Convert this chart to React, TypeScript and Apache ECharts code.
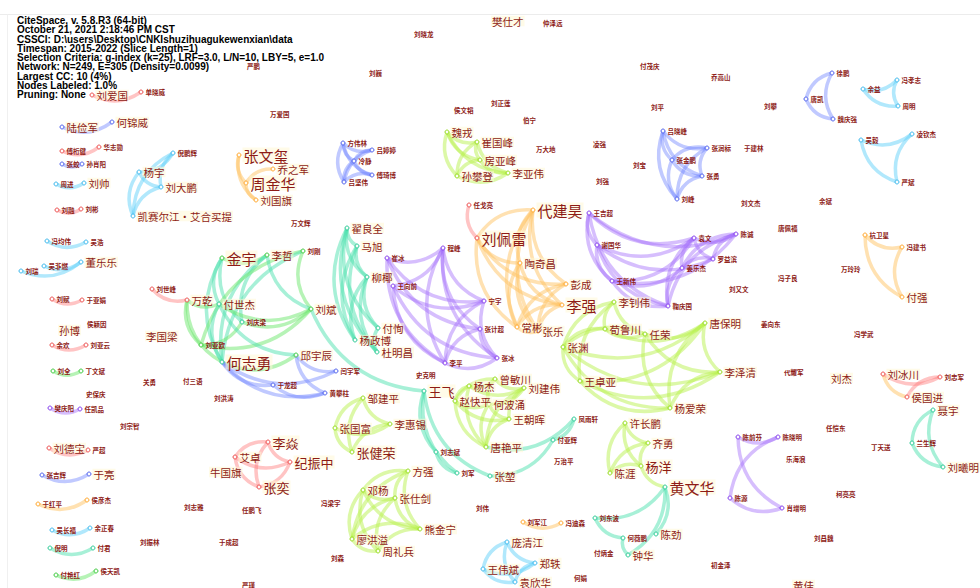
import React, { useEffect, useRef } from 'react';
import * as echarts from 'echarts';

const headerLines = [
  'CiteSpace, v. 5.8.R3 (64-bit)',
  'October 21, 2021 2:18:46 PM CST',
  'CSSCI: D:\\users\\Desktop\\CNKIshuzihuagukewenxian\\data',
  'Timespan: 2015-2022 (Slice Length=1)',
  'Selection Criteria: g-index (k=25), LRF=3.0, L/N=10, LBY=5, e=1.0',
  'Network: N=249, E=305 (Density=0.0099)',
  'Largest CC: 10 (4%)',
  'Nodes Labeled: 1.0%',
  'Pruning: None',
];

// [author, layoutX, layoutY, frequency tier]
const nodes: [string, number, number, number][] = [
  ['刘爱国', 92, 95, 3], ['单晓威', 141, 92, 1], ['严鹏', 245, 66, 1], ['刘巍', 367, 73, 1],
  ['刘晓龙', 412, 34, 1], ['樊仕才', 490, 21, 3], ['仲泽远', 541, 23, 1], ['万爱国', 268, 114, 1],
  ['陆俭军', 62, 127, 3], ['何锦威', 112, 122, 3], ['傅桁健', 62, 151, 1], ['华志勋', 99, 147, 1],
  ['张蛟', 62, 164, 1], ['孙肖阳', 82, 164, 1], ['周进', 56, 184, 1], ['刘帅', 84, 183, 3],
  ['倪鹏辉', 173, 153, 1], ['杨宇', 139, 172, 3], ['刘大鹏', 161, 187, 3],
  ['凯赛尔江·艾合买提', 133, 216, 3], ['张文玺', 239, 155, 5], ['乔之军', 273, 169, 3],
  ['周金华', 246, 183, 5], ['刘国旗', 256, 200, 3], ['刘融', 57, 210, 1], ['刘彬', 81, 209, 1],
  ['万文辉', 289, 223, 1], ['冯均伟', 47, 241, 1], ['吴浩', 86, 242, 1], ['吴非燃', 44, 266, 1],
  ['董乐乐', 81, 262, 3], ['刘瑞', 21, 271, 1], ['刘赋', 52, 299, 1], ['于亚娟', 82, 300, 1],
  ['孙博', 57, 330, 3], ['侯颖因', 85, 324, 1], ['余欢', 52, 345, 1], ['刘亚云', 86, 345, 1],
  ['刘全', 53, 371, 1], ['丁文斌', 81, 371, 1], ['关勇', 141, 382, 1], ['付三语', 181, 381, 1],
  ['史保庆', 84, 394, 1], ['李国梁', 144, 336, 3], ['刘世峰', 152, 289, 1], ['万乾', 187, 300, 3],
  ['金宇', 222, 258, 5], ['李哲', 267, 255, 3], ['刘刚', 303, 251, 1], ['付世杰', 219, 304, 3],
  ['刘庆梁', 242, 322, 1], ['刘亚欧', 201, 345, 1], ['刘斌', 311, 309, 3], ['何志勇', 222, 362, 5],
  ['邱宇辰', 296, 355, 3], ['于龙超', 273, 385, 1], ['闫宇军', 336, 371, 1], ['黄攀柱', 325, 393, 1],
  ['方伟林', 343, 143, 1], ['吕婷婷', 372, 150, 1], ['冷静', 354, 161, 1], ['傅琦博', 372, 175, 1],
  ['吕坚伟', 344, 182, 1],
  ['翟良全', 347, 228, 3], ['马旭', 357, 246, 3], ['柳椰', 367, 277, 3], ['付恂', 378, 328, 3],
  ['杨政博', 355, 340, 3], ['杜明昌', 377, 352, 3],
  ['崔冰', 387, 258, 1], ['程峰', 443, 248, 1], ['王向前', 393, 286, 1], ['宁宇', 484, 301, 1],
  ['张计超', 480, 329, 1], ['张冰', 497, 358, 1], ['李平', 445, 363, 1],
  ['侯文韬', 452, 110, 1], ['刘正莲', 489, 103, 1], ['伯宁', 521, 120, 1], ['万大地', 534, 149, 1],
  ['凌强', 591, 144, 1], ['刘宝', 631, 165, 1], ['刘强', 594, 181, 1],
  ['魏戎', 447, 132, 3], ['崔国峰', 477, 142, 3], ['房亚峰', 480, 160, 3], ['孙攀登', 457, 176, 3],
  ['李亚伟', 508, 173, 3],
  ['任戈亮', 469, 205, 1], ['代建昊', 533, 210, 5], ['刘佩雷', 477, 238, 5], ['陶奇昌', 520, 263, 3],
  ['彭成', 566, 284, 3], ['李强', 562, 305, 5], ['常彬', 517, 327, 3], ['张乐', 538, 331, 3],
  ['付茂庆', 638, 66, 1], ['乔高山', 709, 77, 1], ['刘平', 649, 107, 1], ['刘攀', 762, 106, 1],
  ['于建林', 742, 148, 1],
  ['吕晓峰', 663, 131, 1], ['张润标', 707, 148, 1], ['张金鹏', 672, 160, 1], ['张勇', 702, 176, 1],
  ['刘峰', 677, 199, 1],
  ['徐鹏', 832, 73, 1], ['唐凯', 806, 99, 1], ['魏庆强', 833, 119, 1],
  ['余益', 863, 89, 1], ['冯孝志', 897, 80, 1], ['周明', 898, 106, 1],
  ['吴毅', 861, 140, 1], ['凌钦杰', 912, 134, 1], ['严斌', 897, 182, 1],
  ['刘文杰', 739, 203, 1], ['余斌', 817, 201, 1], ['唐佩福', 776, 228, 1], ['冯子良', 776, 278, 1],
  ['刘又文', 727, 289, 1], ['万玲玲', 839, 269, 1], ['姜向东', 759, 324, 1], ['冯学武', 852, 334, 1],
  ['代耀军', 782, 372, 1], ['刘杰', 829, 378, 3],
  ['王吉超', 589, 213, 1], ['谢国华', 597, 245, 1], ['王新伟', 612, 281, 1], ['袁文', 694, 238, 1],
  ['陈诚', 736, 234, 1], ['罗益滨', 713, 259, 1], ['姜乐杰', 682, 268, 1], ['鞠庆国', 668, 306, 1],
  ['杭卫星', 865, 235, 1], ['冯建书', 902, 247, 1], ['付强', 902, 297, 3],
  ['李钊伟', 614, 302, 3], ['荀鲁川', 605, 329, 3], ['任荣', 645, 334, 3], ['张渊', 563, 347, 3],
  ['王卓亚', 580, 381, 3], ['唐保明', 705, 323, 3], ['李泽清', 720, 372, 3], ['杨爱荣', 670, 408, 3],
  ['刘冰川', 883, 374, 3], ['刘忠军', 940, 377, 1], ['侯国进', 907, 397, 3], ['聂宇', 933, 410, 3],
  ['兰生辉', 912, 443, 1], ['刘曦明', 943, 467, 3],
  ['陈前芬', 738, 437, 1], ['陈晓明', 778, 437, 1], ['陈源', 730, 498, 1], ['肖增明', 782, 508, 1],
  ['任恺东', 824, 428, 1], ['乐海浪', 784, 459, 1], ['丁天送', 869, 447, 1], ['柯亮亮', 834, 494, 1],
  ['刘昌魏', 812, 538, 1], ['初金泽', 709, 565, 1], ['黄佳', 791, 585, 3],
  ['许长鹏', 625, 423, 3], ['齐勇', 648, 443, 3], ['杨洋', 641, 466, 4], ['陈涯', 610, 473, 3],
  ['黄文华', 665, 487, 5], ['陈劲', 656, 534, 3], ['刘东波', 595, 518, 1], ['何薇鹏', 623, 538, 1],
  ['钟华', 628, 555, 3],
  ['王飞', 424, 391, 4], ['史克明', 414, 375, 1], ['杨杰', 469, 386, 3], ['曾敏川', 495, 379, 3],
  ['刘建伟', 524, 388, 3], ['赵快平', 455, 401, 3], ['何波涌', 489, 404, 3], ['王朝晖', 509, 419, 3],
  ['唐艳平', 486, 447, 3], ['张堃', 490, 476, 3], ['刘志斌', 436, 452, 1], ['刘军', 457, 473, 1],
  ['凤雨轩', 574, 419, 1], ['付亚辉', 553, 440, 1], ['万治平', 552, 461, 1],
  ['邹建平', 363, 398, 3], ['李惠锡', 390, 424, 3], ['张国富', 335, 428, 3], ['张健荣', 352, 452, 4],
  ['方强', 408, 471, 3], ['邓杨', 363, 490, 3], ['张仕剑', 395, 498, 3], ['熊金宁', 420, 529, 3],
  ['廖洪溢', 352, 539, 3], ['周礼兵', 378, 551, 3], ['刘森', 329, 558, 1], ['刘伟', 474, 508, 1],
  ['刘军江', 523, 522, 1], ['冯迪森', 561, 523, 1], ['庞清江', 507, 542, 3], ['郑轶', 535, 563, 3],
  ['王伟斌', 483, 569, 3], ['袁欣华', 515, 582, 3], ['付炳金', 592, 553, 1], ['何娟', 572, 578, 1],
  ['樊庆阳', 50, 408, 1], ['任凯品', 80, 409, 1], ['刘宗智', 118, 426, 1], ['刘洪涛', 212, 398, 1],
  ['刘德宝', 49, 448, 3], ['严超', 88, 450, 1], ['张吉辉', 42, 475, 1], ['于亮', 89, 474, 3],
  ['于红平', 38, 504, 1], ['侯彦杰', 87, 500, 1], ['吴长福', 52, 530, 1], ['余正春', 90, 528, 1],
  ['倪明', 50, 548, 1], ['付君', 93, 548, 1], ['付艳红', 56, 575, 1], ['侯天凯', 96, 571, 1],
  ['刘志雅', 182, 507, 1], ['任鹏飞', 240, 510, 1], ['冯梁宇', 319, 503, 1], ['刘振林', 138, 542, 1],
  ['于成超', 217, 542, 1], ['严瑾', 240, 585, 1],
  ['李焱', 268, 442, 4], ['艾卓', 235, 457, 3], ['纪振中', 290, 462, 4], ['牛国旗', 208, 472, 3],
  ['张奕', 259, 487, 4],
];

// time-slice groups: 0 blue, 1 cyan, 2 teal, 3 green, 4 yellow-green, 5 orange, 6 red, 7 purple
const links: [string, string, number][] = [
  ['刘爱国', '单晓威', 6], ['陆俭军', '何锦威', 0], ['傅桁健', '华志勋', 6], ['张蛟', '孙肖阳', 0],
  ['周进', '刘帅', 1],
  ['杨宇', '倪鹏辉', 1], ['杨宇', '刘大鹏', 1], ['倪鹏辉', '凯赛尔江·艾合买提', 1],
  ['杨宇', '凯赛尔江·艾合买提', 1], ['刘大鹏', '凯赛尔江·艾合买提', 1], ['倪鹏辉', '刘大鹏', 1],
  ['张文玺', '周金华', 5], ['张文玺', '刘国旗', 5], ['周金华', '刘国旗', 5], ['乔之军', '周金华', 5],
  ['刘融', '刘彬', 6], ['冯均伟', '吴浩', 1], ['吴非燃', '董乐乐', 1], ['刘瑞', '董乐乐', 1],
  ['刘赋', '于亚娟', 6], ['余欢', '刘亚云', 6], ['刘全', '丁文斌', 3], ['刘世峰', '万乾', 6],
  ['金宇', '李哲', 3], ['金宇', '付世杰', 2], ['金宇', '何志勇', 2], ['金宇', '刘庆梁', 2],
  ['李哲', '何志勇', 2], ['李哲', '刘庆梁', 2], ['刘刚', '刘斌', 3], ['刘刚', '刘亚欧', 3],
  ['刘刚', '何志勇', 2], ['万乾', '付世杰', 3], ['万乾', '何志勇', 3], ['万乾', '刘亚欧', 3],
  ['付世杰', '何志勇', 2], ['付世杰', '刘斌', 3], ['刘亚欧', '刘斌', 3], ['刘亚欧', '刘庆梁', 3],
  ['刘庆梁', '刘斌', 3], ['何志勇', '邱宇辰', 3], ['付世杰', '邱宇辰', 2], ['李哲', '刘斌', 2],
  ['刘斌', '王飞', 2],
  ['何志勇', '闫宇军', 0], ['何志勇', '黄攀柱', 0], ['邱宇辰', '闫宇军', 0], ['于龙超', '黄攀柱', 0],
  ['何志勇', '于龙超', 0], ['邱宇辰', '黄攀柱', 0],
  ['方伟林', '吕婷婷', 0], ['方伟林', '冷静', 0], ['方伟林', '吕坚伟', 0], ['吕婷婷', '冷静', 0],
  ['吕婷婷', '吕坚伟', 0], ['冷静', '傅琦博', 0], ['冷静', '吕坚伟', 0], ['傅琦博', '吕坚伟', 0],
  ['方伟林', '傅琦博', 0],
  ['翟良全', '马旭', 2], ['翟良全', '柳椰', 2], ['翟良全', '付恂', 2], ['翟良全', '杨政博', 2],
  ['翟良全', '杜明昌', 2], ['马旭', '柳椰', 2], ['马旭', '杨政博', 2], ['马旭', '杜明昌', 2],
  ['柳椰', '付恂', 2], ['柳椰', '杨政博', 2], ['柳椰', '杜明昌', 2], ['付恂', '杜明昌', 2],
  ['崔冰', '程峰', 7], ['崔冰', '宁宇', 7], ['崔冰', '张计超', 7], ['崔冰', '李平', 7],
  ['王向前', '程峰', 7], ['王向前', '李平', 7], ['王向前', '张冰', 7], ['程峰', '宁宇', 7],
  ['程峰', '张计超', 7], ['程峰', '李平', 7], ['程峰', '张冰', 7], ['宁宇', '张冰', 7],
  ['宁宇', '李平', 7], ['张计超', '张冰', 7], ['张计超', '李平', 7], ['李平', '张冰', 7],
  ['王向前', '宁宇', 7],
  ['任戈亮', '刘佩雷', 6],
  ['代建昊', '刘佩雷', 5], ['代建昊', '陶奇昌', 5], ['代建昊', '彭成', 5], ['代建昊', '李强', 5],
  ['代建昊', '常彬', 5], ['代建昊', '张乐', 5], ['刘佩雷', '陶奇昌', 5], ['刘佩雷', '彭成', 5],
  ['刘佩雷', '李强', 5], ['刘佩雷', '常彬', 5], ['陶奇昌', '李强', 5], ['陶奇昌', '常彬', 5],
  ['陶奇昌', '张乐', 5], ['彭成', '常彬', 5], ['彭成', '张乐', 5], ['李强', '常彬', 5],
  ['李强', '张乐', 5], ['常彬', '张乐', 5],
  ['魏戎', '崔国峰', 4], ['魏戎', '房亚峰', 4], ['魏戎', '孙攀登', 4], ['魏戎', '李亚伟', 4],
  ['崔国峰', '房亚峰', 4], ['崔国峰', '孙攀登', 4], ['崔国峰', '李亚伟', 4], ['房亚峰', '李亚伟', 4],
  ['孙攀登', '李亚伟', 4], ['房亚峰', '孙攀登', 4],
  ['吕晓峰', '张润标', 0], ['吕晓峰', '张金鹏', 0], ['吕晓峰', '张勇', 0], ['吕晓峰', '刘峰', 0],
  ['张润标', '张金鹏', 0], ['张润标', '张勇', 0], ['张润标', '刘峰', 0], ['张金鹏', '张勇', 0],
  ['张金鹏', '刘峰', 0], ['张勇', '刘峰', 0],
  ['徐鹏', '唐凯', 0], ['唐凯', '魏庆强', 0], ['徐鹏', '魏庆强', 0],
  ['余益', '冯孝志', 1], ['冯孝志', '周明', 1], ['余益', '周明', 1],
  ['吴毅', '凌钦杰', 1], ['凌钦杰', '严斌', 1], ['吴毅', '严斌', 1],
  ['王吉超', '谢国华', 7], ['王吉超', '王新伟', 7], ['王吉超', '袁文', 7], ['王吉超', '陈诚', 7],
  ['王吉超', '鞠庆国', 7], ['谢国华', '袁文', 7], ['谢国华', '罗益滨', 7], ['谢国华', '王新伟', 7],
  ['谢国华', '鞠庆国', 7], ['王新伟', '袁文', 7], ['王新伟', '陈诚', 7], ['王新伟', '姜乐杰', 7],
  ['王新伟', '鞠庆国', 7], ['袁文', '陈诚', 7], ['袁文', '罗益滨', 7], ['袁文', '鞠庆国', 7],
  ['陈诚', '罗益滨', 7], ['陈诚', '姜乐杰', 7], ['陈诚', '鞠庆国', 7], ['罗益滨', '姜乐杰', 7],
  ['姜乐杰', '鞠庆国', 7], ['袁文', '姜乐杰', 7],
  ['杭卫星', '冯建书', 5], ['冯建书', '付强', 5], ['杭卫星', '付强', 5],
  ['李钊伟', '荀鲁川', 4], ['李钊伟', '张渊', 4], ['李钊伟', '任荣', 4], ['李钊伟', '王卓亚', 4],
  ['荀鲁川', '任荣', 4], ['荀鲁川', '张渊', 4], ['荀鲁川', '唐保明', 4], ['任荣', '唐保明', 4],
  ['任荣', '李泽清', 4], ['任荣', '张渊', 4], ['任荣', '杨爱荣', 4], ['张渊', '王卓亚', 4],
  ['张渊', '李泽清', 4], ['张渊', '杨爱荣', 4], ['王卓亚', '杨爱荣', 4], ['王卓亚', '李泽清', 4],
  ['唐保明', '李泽清', 4], ['唐保明', '杨爱荣', 4], ['李泽清', '杨爱荣', 4], ['张渊', '唐保明', 4],
  ['王卓亚', '唐保明', 4],
  ['杨杰', '曾敏川', 4], ['杨杰', '赵快平', 4], ['杨杰', '刘建伟', 4], ['曾敏川', '刘建伟', 4],
  ['曾敏川', '何波涌', 4], ['赵快平', '何波涌', 4], ['赵快平', '王朝晖', 4], ['赵快平', '唐艳平', 4],
  ['何波涌', '刘建伟', 4], ['何波涌', '王朝晖', 4], ['何波涌', '唐艳平', 4], ['刘建伟', '王朝晖', 4],
  ['刘建伟', '唐艳平', 4], ['王朝晖', '唐艳平', 4], ['杨杰', '唐艳平', 4], ['曾敏川', '赵快平', 4],
  ['王飞', '刘志斌', 2], ['刘志斌', '刘军', 2], ['王飞', '刘军', 2], ['王飞', '张堃', 2],
  ['张堃', '付亚辉', 2], ['付亚辉', '凤雨轩', 2], ['唐艳平', '凤雨轩', 2],
  ['邹建平', '张国富', 4], ['邹建平', '李惠锡', 4], ['邹建平', '张健荣', 4], ['张国富', '李惠锡', 4],
  ['张国富', '张健荣', 4], ['李惠锡', '张健荣', 4],
  ['方强', '邓杨', 4], ['方强', '张仕剑', 4], ['方强', '熊金宁', 4], ['方强', '廖洪溢', 4],
  ['邓杨', '张仕剑', 4], ['邓杨', '廖洪溢', 4], ['邓杨', '周礼兵', 4], ['邓杨', '熊金宁', 4],
  ['张仕剑', '熊金宁', 4], ['张仕剑', '廖洪溢', 4], ['张仕剑', '周礼兵', 4], ['熊金宁', '周礼兵', 4],
  ['廖洪溢', '周礼兵', 4], ['熊金宁', '廖洪溢', 4],
  ['李焱', '纪振中', 6], ['李焱', '张奕', 6], ['艾卓', '张奕', 6], ['艾卓', '纪振中', 6],
  ['张奕', '纪振中', 6], ['李焱', '艾卓', 6],
  ['刘军江', '冯迪森', 5],
  ['庞清江', '郑轶', 1], ['庞清江', '王伟斌', 1], ['王伟斌', '郑轶', 1], ['王伟斌', '袁欣华', 1],
  ['郑轶', '袁欣华', 1], ['庞清江', '袁欣华', 1],
  ['刘东波', '黄文华', 2], ['钟华', '黄文华', 2], ['陈劲', '黄文华', 2], ['刘东波', '何薇鹏', 2],
  ['何薇鹏', '钟华', 2],
  ['许长鹏', '齐勇', 4], ['许长鹏', '陈涯', 4], ['许长鹏', '杨洋', 4], ['齐勇', '陈涯', 4],
  ['齐勇', '杨洋', 4], ['杨洋', '陈涯', 4], ['杨洋', '黄文华', 4],
  ['陈前芬', '陈晓明', 7], ['陈前芬', '肖增明', 7], ['陈晓明', '陈源', 7], ['陈源', '肖增明', 7],
  ['刘冰川', '刘忠军', 6], ['刘忠军', '侯国进', 6], ['刘冰川', '侯国进', 5],
  ['聂宇', '兰生辉', 2], ['兰生辉', '刘曦明', 2], ['聂宇', '刘曦明', 2],
  ['樊庆阳', '任凯品', 7], ['刘德宝', '严超', 6], ['张吉辉', '于亮', 0], ['于红平', '侯彦杰', 5],
  ['吴长福', '余正春', 1], ['倪明', '付君', 2], ['付艳红', '侯天凯', 3],
];

const edgeColors = [
  'rgba(115,135,255,0.45)',
  'rgba(100,210,250,0.5)',
  'rgba(80,225,175,0.5)',
  'rgba(110,232,110,0.5)',
  'rgba(185,242,80,0.5)',
  'rgba(255,195,100,0.5)',
  'rgba(255,125,125,0.45)',
  'rgba(165,110,250,0.45)',
];
const nodeColors = ['#5566ee', '#44bbee', '#33cc99', '#44cc44', '#99dd22', '#ffaa33', '#ee5555', '#8844ee'];
const tierFont: Record<number, number> = { 1: 6.5, 3: 10.5, 4: 13, 5: 15 };

export default function App() {
  const ref = useRef<HTMLDivElement>(null);
  useEffect(() => {
    const chart = echarts.init(ref.current!, null, { renderer: 'svg' });
    const groupOf: Record<string, number> = {};
    links.forEach(([a, b, g]) => {
      if (groupOf[a] === undefined) groupOf[a] = g;
      if (groupOf[b] === undefined) groupOf[b] = g;
    });
    const data = nodes.map(([name, x, y, w]) => {
      const g = groupOf[name];
      return {
        name,
        value: [x, y],
        symbol: 'circle',
        symbolSize: g === undefined ? 0 : 4,
        itemStyle: {
          color: 'rgba(255,255,255,0.9)',
          borderColor: g === undefined ? 'rgba(0,0,0,0)' : nodeColors[g],
          borderWidth: 1,
        },
        label: {
          show: true,
          position: 'right',
          distance: 1,
          fontSize: tierFont[w],
          fontWeight: w === 1 ? 'bold' : 'normal',
          color: '#8e1b16',
          fontFamily: '"Noto Sans CJK SC", sans-serif',
          backgroundColor: w >= 3 ? 'rgba(255,248,214,0.55)' : 'transparent',
          padding: [0, 1],
        },
      };
    });
    const linkData = links.map(([a, b, g]) => ({
      source: a,
      target: b,
      lineStyle: { color: edgeColors[g], width: 3.5, curveness: -0.3, opacity: 1 },
    }));
    chart.setOption({
      animation: false,
      backgroundColor: '#ffffff',
      grid: { left: 0, right: 0, top: 0, bottom: 0 },
      xAxis: { type: 'value', min: 0, max: 980, show: false },
      yAxis: { type: 'value', min: 0, max: 588, inverse: true, show: false },
      graphic: [
        { type: 'line', shape: { x1: 0, y1: 14.5, x2: 980, y2: 14.5 }, style: { stroke: '#ececec', lineWidth: 1 }, z: 1 },
        { type: 'line', shape: { x1: 7.5, y1: 14.5, x2: 7.5, y2: 588 }, style: { stroke: '#f0f0f0', lineWidth: 1 }, z: 1 },
        {
          type: 'text',
          left: 17,
          top: 15.5,
          z: 100,
          style: {
            text: headerLines.join('\n'),
            font: 'bold 10px "Liberation Sans", Arial, sans-serif',
            lineHeight: 9.25,
            fill: '#000',
          },
        },
      ],
      series: [
        {
          type: 'graph',
          coordinateSystem: 'cartesian2d',
          layout: 'none',
          silent: true,
          data,
          links: linkData,
          edgeSymbol: ['none', 'none'],
          emphasis: { disabled: true },
          labelLayout: { hideOverlap: false },
        },
      ],
    });
    return () => chart.dispose();
  }, []);
  return (
    <div
      ref={ref}
      style={{ position: 'fixed', left: 0, top: 0, width: 980, height: 588, background: '#fff' }}
    />
  );
}
